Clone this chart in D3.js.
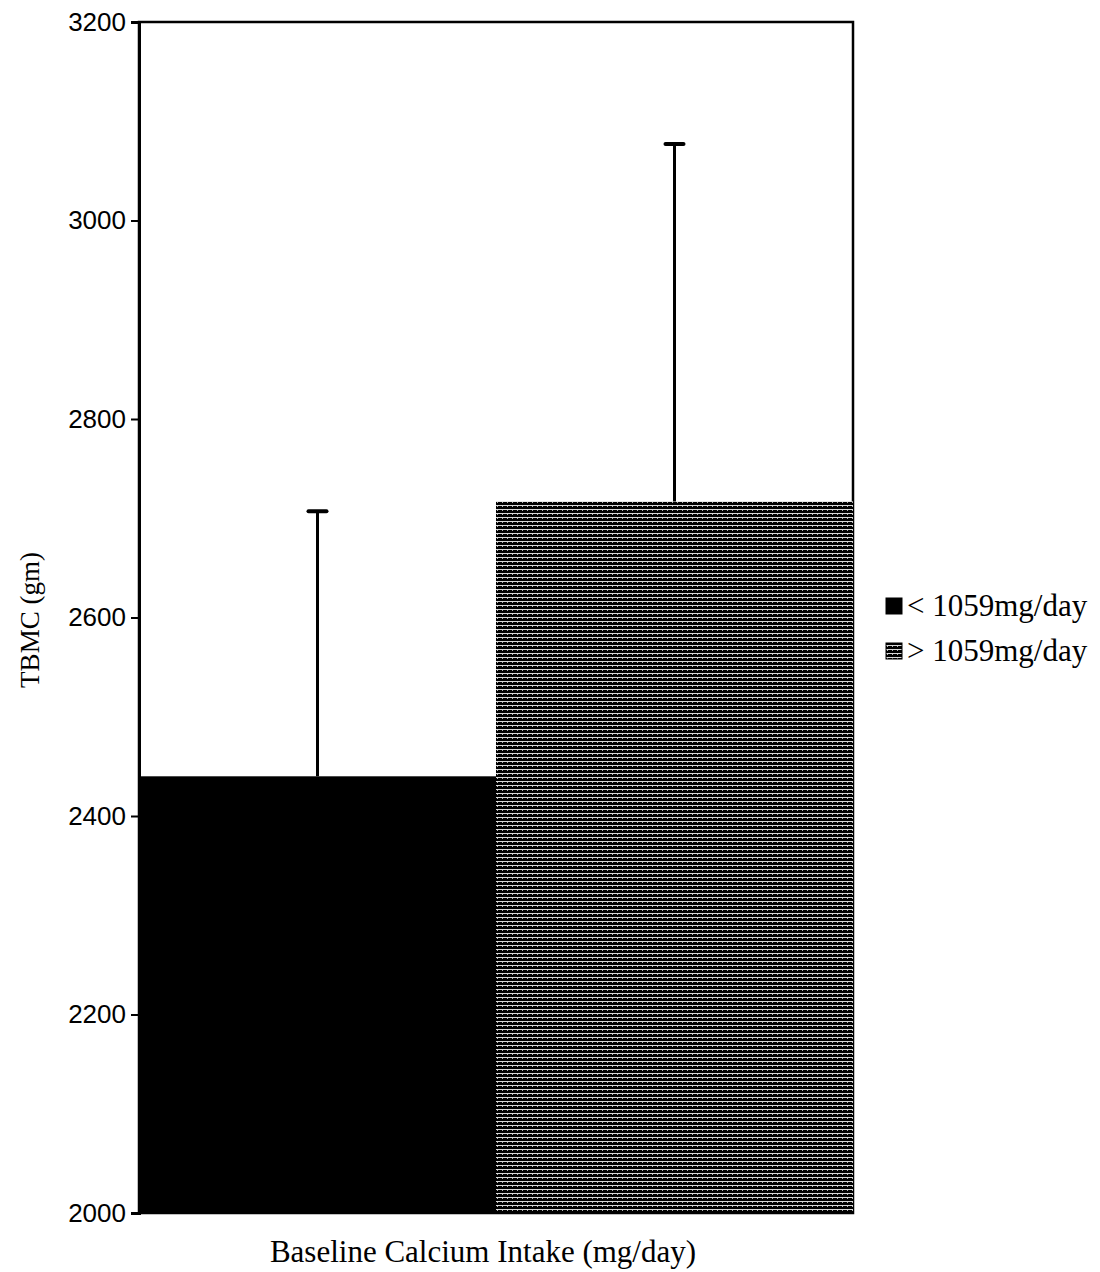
<!DOCTYPE html>
<html><head><meta charset="utf-8">
<script src="https://cdn.jsdelivr.net/npm/d3@7"></script>
<style>body{margin:0;background:#fff}</style>
</head><body>
<svg id="c" width="1100" height="1272"></svg>
<script>
const categories = ["< 1059mg/day", "> 1059mg/day"];
const means = [2440, 2717];
const errTop = [2708, 3078];
const yTicks = [2000, 2200, 2400, 2600, 2800, 3000, 3200];

const svg = d3.select("#c");
const L = 139, R = 853, T = 22, B = 1213;
const x = d3.scaleBand().domain(categories).range([L, R]).padding(0);
const y = d3.scaleLinear().domain([2000, 3200]).range([B, T]);

const defs = svg.append("defs");
const pat = defs.append("pattern").attr("id","hatch").attr("patternUnits","userSpaceOnUse")
  .attr("width",5).attr("height",4);
pat.append("rect").attr("width",5).attr("height",4).attr("fill","#000");
pat.append("rect").attr("x",0).attr("y",1).attr("width",5).attr("height",1).attr("fill","#fff").attr("opacity",0.85);
pat.append("rect").attr("x",2).attr("y",2).attr("width",1).attr("height",1).attr("fill","#fff").attr("opacity",0.7);

const fills = ["#000", "url(#hatch)"];

// frame
svg.append("rect").attr("x",L).attr("y",T).attr("width",R-L).attr("height",B-T)
  .attr("fill","none").attr("stroke","#000").attr("stroke-width",2.5);

// bars
svg.selectAll("rect.bar").data(categories).enter().append("rect").attr("class","bar")
  .attr("x", d => x(d)).attr("width", x.bandwidth())
  .attr("y", (d,i) => y(means[i])).attr("height", (d,i) => y(2000) - y(means[i]))
  .attr("fill", (d,i) => fills[i]);

// error bars
categories.forEach((d,i) => {
  const cx = x(d) + x.bandwidth()/2;
  svg.append("line").attr("x1",cx).attr("x2",cx).attr("y1",y(means[i])).attr("y2",y(errTop[i]))
    .attr("stroke","#000").attr("stroke-width",3);
  svg.append("line").attr("x1",cx-9).attr("x2",cx+9).attr("y1",y(errTop[i])+1).attr("y2",y(errTop[i])+1)
    .attr("stroke","#000").attr("stroke-width",4).attr("stroke-linecap","round");
});

// y axis
const ax = svg.append("g").attr("transform",`translate(${L},0)`)
  .call(d3.axisLeft(y).tickValues(yTicks).tickSize(8).tickPadding(5).tickFormat(d3.format("d")));
ax.select(".domain").attr("stroke","#000").attr("stroke-width",3);
ax.selectAll(".tick line").attr("stroke","#000").attr("stroke-width",2);
ax.selectAll(".tick text").attr("font-family","'Liberation Sans', Arial, sans-serif")
  .attr("font-size",26).attr("fill","#000");

// axis titles
svg.append("text").attr("transform","translate(39,620) rotate(-90)").attr("text-anchor","middle")
  .attr("font-family","'Liberation Serif', 'Times New Roman', serif").attr("font-size",27)
  .text("TBMC (gm)");
svg.append("text").attr("x",483).attr("y",1262).attr("text-anchor","middle")
  .attr("font-family","'Liberation Serif', 'Times New Roman', serif").attr("font-size",31)
  .text("Baseline Calcium Intake (mg/day)");

// legend
const lg = svg.append("g");
categories.forEach((d,i) => {
  const yy = 598 + i*45;
  lg.append("rect").attr("x",886).attr("y",yy).attr("width",16).attr("height",16)
    .attr("fill", fills[i]).attr("stroke","#000").attr("stroke-width",1);
  lg.append("text").attr("x",907).attr("y",yy+18)
    .attr("font-family","'Liberation Serif', 'Times New Roman', serif").attr("font-size",31)
    .text(d);
});
</script>
</body></html>
